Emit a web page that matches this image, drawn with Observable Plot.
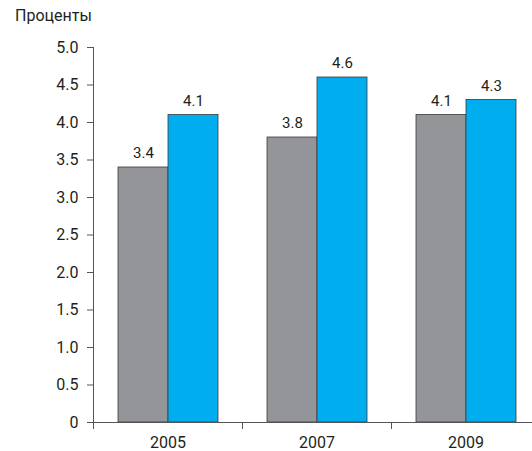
<!DOCTYPE html>
<html><head><meta charset="utf-8">
<script src="https://cdn.jsdelivr.net/npm/d3@7"></script>
<script src="https://cdn.jsdelivr.net/npm/@observablehq/plot@0.6"></script>
<style>
body{margin:0;overflow:hidden;background:#fff;font-family:Roboto,sans-serif;}
#title{height:32px;box-sizing:border-box;padding:7px 0 0 15px;font-size:16px;line-height:18px;color:#231f20;}
</style></head><body>
<div id="title">Проценты</div>
<div id="chart"></div>
<script>
const years = ["2005", "2007", "2009"];
const series = ["A", "B"];
const valuesGray = [3.4, 3.8, 4.1];
const valuesBlue = [4.1, 4.6, 4.3];
const yTicks = [0, 0.5, 1, 1.5, 2, 2.5, 3, 3.5, 4, 4.5, 5];
const colors = ["#939598", "#00aeef"];

const data = years.flatMap((y, i) => [
  {year: y, s: "A", v: valuesGray[i]},
  {year: y, s: "B", v: valuesBlue[i]}
]);

const chart = Plot.plot({
  width: 532, height: 419,
  marginTop: 15, marginBottom: 29, marginLeft: 93, marginRight: -8,
  style: {fontFamily: "Roboto, sans-serif", fontSize: "16px", color: "#231f20", overflow: "visible"},
  fx: {domain: years, padding: 0, label: null, axis: "bottom", tickSize: 0, tickPadding: 14},
  x: {domain: series, paddingInner: 0, paddingOuter: 0.49, axis: null},
  y: {domain: [0, 5], axis: null},
  color: {domain: series, range: colors},
  marks: [
    Plot.barY(data, {fx: "year", x: "s", y: "v", fill: "s", stroke: "#3a3a3a", strokeWidth: 0.8}),
    Plot.text(data, {fx: "year", x: "s", y: "v", text: d => d.v.toFixed(1), dy: -14, fontSize: 15, fill: "#231f20"}),
    Plot.ruleY([0], {stroke: "#555"}),
    Plot.axisY(yTicks, {tickFormat: d => d === 0 ? "0" : d.toFixed(1), tickSize: 6, tickPadding: 9, label: null, stroke: "#555"}),
    Plot.frame({anchor: "left", facet: "super", stroke: "#555"}),
    Plot.frame({anchor: "left", insetTop: 375, insetBottom: -6, stroke: "#555"})
  ]
});
document.getElementById("chart").append(chart);
</script>
</body></html>
